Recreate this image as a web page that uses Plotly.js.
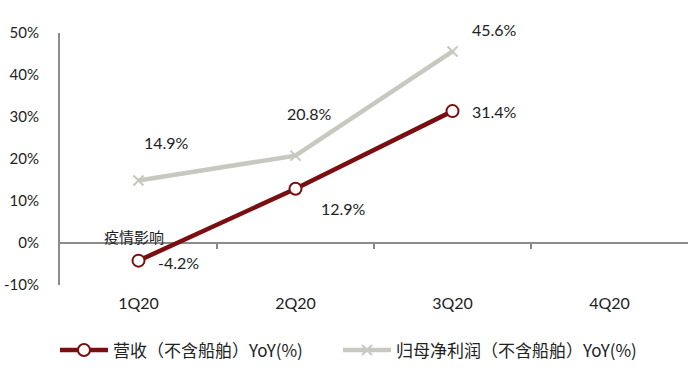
<!DOCTYPE html>
<html><head><meta charset="utf-8">
<script src="https://cdn.plot.ly/plotly-3.0.1.min.js"></script>
<style>html,body{margin:0;padding:0;background:#fff;}#c{width:700px;height:389px;}</style>
</head><body><div id="c"></div>
<script>
const categories = ['1Q20','2Q20','3Q20','4Q20'];
const revenueYoY = [-4.2, 12.9, 31.4, null];
const profitYoY = [14.9, 20.8, 45.6, null];
const seriesNames = ['营收（不含船舶）YoY(%)','归母净利润（不含船舶）YoY(%)'];
const yTicks = [-10, 0, 10, 20, 30, 40, 50];
const noteText = '疫情影响';

const red = '#7a0e10', gray = '#c8c8c0';
const numFont = {family:'Lato, "Open Sans", sans-serif', size:16, color:'#222'};
const legFont = {family:'"Noto Sans CJK SC", sans-serif', size:17, color:'#222'};
const xi = categories.map((c,i)=>i);

const traces = [
 {x: xi, y: profitYoY, name: seriesNames[1], type:'scatter', mode:'lines+markers', legend:'legend2',
  line:{color:gray, width:4.5}, marker:{symbol:'x-thin', size:10, color:gray, line:{color:gray, width:2}}},
 {x: xi, y: revenueYoY, name: seriesNames[0], type:'scatter', mode:'lines+markers', legend:'legend',
  line:{color:red, width:4.5}, marker:{symbol:'circle', size:12, color:'#fff', line:{color:red, width:2}}}
];

const annotations = [];
const revOff = [[40,-2],[48,-20],[42,0]];
const proOff = [[28,38],[14,42],[42,22]];
revenueYoY.forEach((v,i)=>{ if(v!==null) annotations.push({x:i,y:v,xref:'x',yref:'y',text:v.toFixed(1)+'%',showarrow:false,font:numFont,xshift:revOff[i][0],yshift:revOff[i][1]}); });
profitYoY.forEach((v,i)=>{ if(v!==null) annotations.push({x:i,y:v,xref:'x',yref:'y',text:v.toFixed(1)+'%',showarrow:false,font:numFont,xshift:proOff[i][0],yshift:proOff[i][1]}); });
annotations.push({x:0,y:0,xref:'x',yref:'y',text:noteText,showarrow:false,xanchor:'center',yanchor:'bottom',xshift:-5,yshift:-6,
  font:{family:'"Noto Sans CJK SC", sans-serif',size:15,color:'#222'}});

const legBase = {orientation:'h', xanchor:'left', y:-0.26, yanchor:'middle', font:legFont, itemwidth:48, bgcolor:'rgba(0,0,0,0)'};
const layout = {
  width:700, height:389,
  margin:{l:60, r:12, t:33, b:104},
  paper_bgcolor:'#fff', plot_bgcolor:'#fff',
  showlegend:true,
  legend:Object.assign({x:-0.008}, legBase),
  legend2:Object.assign({x:0.4427}, legBase),
  xaxis:{range:[-0.5,3.5], tickvals:xi, ticktext:categories, showgrid:false, zeroline:false, showline:false,
    ticks:'', ticklabelstandoff:7, tickfont:{family:'Lato, "Open Sans", sans-serif', size:16, color:'#222'}, fixedrange:true},
  xaxis2:{range:[-0.5,3.5], overlaying:'x', anchor:'free', position:1/6, tickvals:[0.5,1.5,2.5], ticks:'outside', ticklen:5,
    tickcolor:'#888', tickwidth:1.5, showticklabels:false, showgrid:false, zeroline:false, showline:false},
  yaxis:{range:[-10,50], tickvals:yTicks, ticktext:yTicks.map(v=>v+'%'), showgrid:false, zeroline:true, zerolinecolor:'#8c8c8c', zerolinewidth:2,
    showline:true, linecolor:'#8c8c8c', linewidth:2, ticks:'', ticklabelstandoff:16,
    tickfont:{family:'Lato, "Open Sans", sans-serif', size:15, color:'#222'}},
  annotations: annotations
};
traces.unshift({x:[0], y:[null], xaxis:'x2', yaxis:'y', showlegend:false, hoverinfo:'skip', type:'scatter', mode:'lines'});
Plotly.newPlot('c', traces, layout, {displayModeBar:false, staticPlot:true});
</script></body></html>
